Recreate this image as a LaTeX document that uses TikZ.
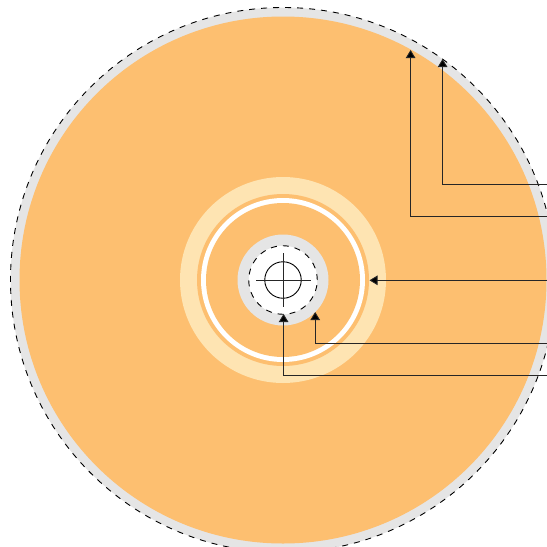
\documentclass[tikz,border=0pt]{standalone}
\usetikzlibrary{arrows.meta}
\definecolor{discorange}{HTML}{FDBF70}
\definecolor{disclight}{HTML}{FEE4B2}
\definecolor{discgray}{HTML}{E5E5E5}
\tikzset{
  disc/.style={circle,draw=none,inner sep=0pt,outer sep=0pt,minimum size=#1},
  dashring/.style={circle,draw=black,line width=0.9pt,dash pattern=on 6pt off 6pt,inner sep=0pt,outer sep=0pt,minimum size=#1},
  leader/.style={draw=black!85,line width=0.9pt,-{Triangle[length=8pt,width=9.5pt,fill=black]}},
  crossline/.style={draw=black!85,line width=0.9pt}
}
\begin{document}
\begin{tikzpicture}[x=1pt,y=-1pt]
\useasboundingbox (0,0) rectangle (547,547);
\clip (0,0) rectangle (547,547);
\coordinate (c) at (283,280);
% outer disc
\node[dashring=545pt,fill=discgray] (rim) at (c) {};
\node[disc=527pt,fill=discorange] (data) at (c) {};
\node[disc=206pt,fill=disclight] (band) at (c) {};
\node[disc=172pt,fill=discorange] (inner) at (c) {};
\node[disc=164pt,fill=white] (whitering) at (c) {};
\node[disc=154pt,fill=discorange] (innerdata) at (c) {};
\node[disc=91pt,fill=discgray] (hub) at (c) {};
\node[dashring=68.5pt,fill=white] (hole) at (c) {};
\node[circle,draw=black,line width=0.9pt,inner sep=0pt,minimum size=36.5pt] (spindle) at (c) {};
% cross
\coordinate (cl) at (256,280.3);
\coordinate (cr) at (311,280.3);
\coordinate (ct) at (283,253);
\coordinate (cb) at (283,307);
\draw[crossline] (cl) -- (cr);
\draw[crossline] (ct) -- (cb);
% connector ends
\coordinate (e1) at (547,184.3);
\coordinate (e2) at (547,216);
\coordinate (e3) at (547,280.3);
\coordinate (e4) at (547,343.3);
\coordinate (e5) at (547,375.3);
\coordinate (t1) at (442.6,59);
\coordinate (t2) at (410.6,50);
\coordinate (t3) at (369.5,280.3);
\coordinate (t4) at (315.2,312);
\coordinate (t5) at (283.6,314);
\draw[leader] (e1) -| (t1);
\draw[leader] (e2) -| (t2);
\draw[leader] (e3) -- (t3);
\draw[leader] (e4) -| (t4);
\draw[leader] (e5) -| (t5);
\end{tikzpicture}
\end{document}
